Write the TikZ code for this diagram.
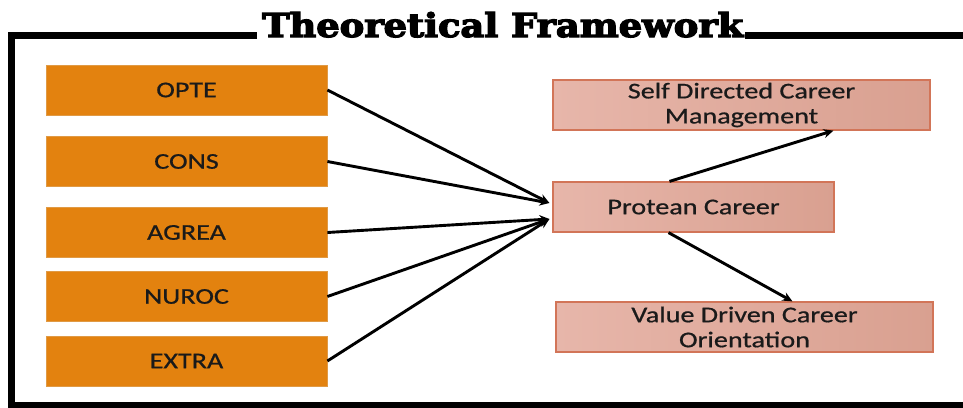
\documentclass[tikz,border=0pt]{standalone}
\usepackage{fontspec}
\usetikzlibrary{arrows.meta}
\setmainfont{Carlito}
\newfontfamily\boxfont[FakeStretch=1.25, FakeBold=0.7]{Carlito}
\newfontfamily\titlefont[FakeBold=3.5]{DejaVu Serif Condensed Bold}
\definecolor{traitfill}{HTML}{E3820F}
\definecolor{traitline}{HTML}{E09A45}
\definecolor{careerleft}{HTML}{E7B6AA}
\definecolor{careerright}{HTML}{D9A090}
\definecolor{careerline}{HTML}{D27558}
\definecolor{ink}{HTML}{1A1A1A}
\tikzset{
  trait/.style={draw=traitline, line width=0.8pt, fill=traitfill,
    minimum width=281pt, minimum height=50pt, inner sep=0pt,
    font=\boxfont\fontsize{22.5}{25}\selectfont, text=ink},
  career/.style={draw=careerline, line width=1.2pt,
    left color=careerleft, right color=careerright,
    minimum height=50pt, inner sep=0pt, align=center,
    font=\boxfont\fontsize{22.5}{25}\selectfont, text=ink},
  link/.style={line width=2.9pt, -{Stealth[length=10pt,width=9pt]}},
  frame/.style={line width=7pt}
}
\begin{document}
\begin{tikzpicture}[x=1pt, y=-1pt]
  \useasboundingbox (0,0) rectangle (963,407);
  \begin{scope}
    \clip (0,0) rectangle (963,407);
    % open frame around the diagram, broken by the heading
    \draw[frame] (257,35.5) -- (11.5,35.5) -- (11.5,405) -- (980,405);
    \draw[frame] (745,35.5) -- (980,35.5);
  \end{scope}
  \node[inner sep=0pt, anchor=base west] (title) at (262,37)
    {\resizebox{481pt}{25pt}{\titlefont Theoretical Framework}};

  % personality traits
  \node[trait] (opte)  at (186.5,90)    {OPTE};
  \node[trait] (cons)  at (186.5,161.5) {CONS};
  \node[trait] (agrea) at (186.5,232.5) {AGREA};
  \node[trait] (nuroc) at (186.5,296.5) {NUROC};
  \node[trait] (extra) at (186.5,361)   {EXTRA};

  % career attitudes
  \node[career, minimum width=377pt] (self) at (741.5,105)
    {Self Directed Career\\Management};
  \node[career, minimum width=281pt] (pro)  at (693.5,207) {Protean Career};
  \node[career, minimum width=377pt] (val)  at (744.5,327)
    {Value Driven Career\\Orientation};

  \coordinate (inA) at ([shift={(-3pt,4pt)}]pro.west);
  \coordinate (inB) at ([shift={(-3pt,-12pt)}]pro.west);

  \draw[link] (opte.east)  -- (inA);
  \draw[link] (cons.east)  -- (inA);
  \draw[link] (agrea.east) -- (inB);
  \draw[link] (nuroc.east) -- (inB);
  \draw[link] (extra.east) -- (inB);

  \draw[link] ([xshift=-24pt]pro.north) -- ([xshift=92pt]self.south);
  \draw[link] ([xshift=-25pt]pro.south) -- ([xshift=48pt]val.north);
\end{tikzpicture}
\end{document}
